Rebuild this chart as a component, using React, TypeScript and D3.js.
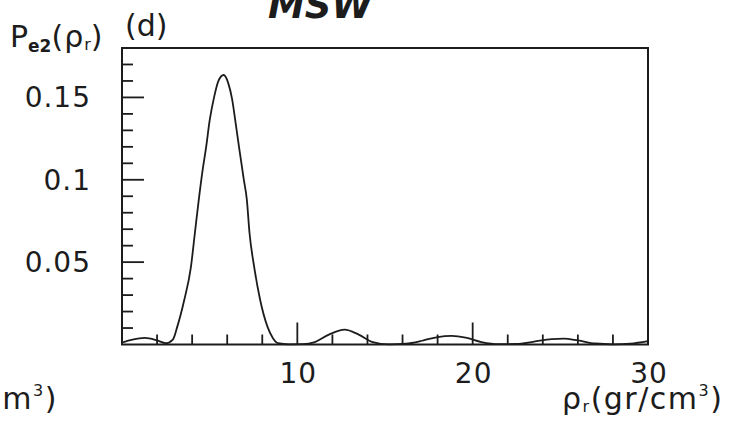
import React from "react";
import * as d3 from "d3";

const rhoValues = [0.0, 0.6, 1.3, 2.0, 2.5, 2.9, 3.15, 3.55, 3.93, 4.16, 4.38, 4.6, 4.8, 5.0, 5.25, 5.5, 5.8, 6.05, 6.28, 6.5, 6.7, 6.95, 7.12, 7.27, 7.54, 7.88, 8.3, 8.6, 8.9, 9.5, 10.3, 11.0, 11.8, 12.7, 13.5, 14.3, 15.2, 16.2, 17.2, 18.0, 18.8, 19.6, 20.5, 21.5, 22.5, 23.5, 24.5, 25.2, 26.0, 27.0, 28.0, 29.0, 30.0];
const peValues = [0.0012, 0.003, 0.004, 0.0025, 0.0008, 0.003, 0.0107, 0.027, 0.047, 0.068, 0.088, 0.106, 0.12, 0.136, 0.15, 0.16, 0.1636, 0.159, 0.149, 0.133, 0.118, 0.1, 0.088, 0.068, 0.047, 0.027, 0.0107, 0.004, 0.0008, 0.0001, 0.0002, 0.0015, 0.006, 0.009, 0.006, 0.0015, 0.0001, 0.0005, 0.0025, 0.0045, 0.0052, 0.0042, 0.0015, 0.0002, 0.0003, 0.0018, 0.0033, 0.0036, 0.0025, 0.0006, 0.0001, 0.0005, 0.002];

const xMajorTicks = [10, 20, 30];
const xMajorLabels = ["10", "20", "30"];
const xMinorTicks = [2, 4, 6, 8, 12, 14, 16, 18, 22, 24, 26, 28];
const yMajorTicks = [0.05, 0.1, 0.15];
const yMajorLabels = ["0.05", "0.1", "0.15"];
const yMinorTicks = [0.01, 0.02, 0.03, 0.04, 0.06, 0.07, 0.08, 0.09, 0.11, 0.12, 0.13, 0.14, 0.16, 0.17];

const FONT = "'DejaVu Sans', sans-serif";
const INK = "#1c1c1c";

function AxisTitle({ x, anchor }: { x: number; anchor: "start" | "end" }) {
  return (
    <text x={x} y={409} fill={INK} fontSize={30} letterSpacing={1.5} textAnchor={anchor}>
      <tspan>ρ</tspan>
      <tspan fontSize={16} dy={3}>r</tspan>
      <tspan dy={-3}>(gr/cm</tspan>
      <tspan fontSize={16} dy={-13}>3</tspan>
      <tspan dy={13}>)</tspan>
    </text>
  );
}

export default function App() {
  const x = d3.scaleLinear().domain([0, 30]).range([122, 648]);
  const y = d3.scaleLinear().domain([0, 0.18]).range([344.5, 48]);
  const pts: [number, number][] = rhoValues.map((r, i) => [r, peValues[i]]);
  const line = d3
    .line<[number, number]>()
    .x((d) => x(d[0]))
    .y((d) => y(d[1]))
    .curve(d3.curveMonotoneX);

  const x0 = x(0), x1 = x(30), yb = y(0), yt = y(0.18);

  return (
    <svg width={750} height={426} style={{ position: "absolute", left: 0, top: 0, background: "#fff" }} fontFamily={FONT}>
      <rect x={0} y={0} width={750} height={426} fill="#fff" />
      {/* title, cut off at top */}
      <text x={268} y={18} fontSize={37} fontWeight="bold" fontStyle="italic" fill={INK}>MSW</text>
      {/* panel label */}
      <text x={125} y={36} fontSize={30} fill={INK}>(d)</text>
      {/* y-axis title */}
      <text x={10} y={47} fill={INK} fontSize={30}>
        <tspan>P</tspan>
        <tspan fontSize={17} fontWeight="bold" dy={5}>e2</tspan>
        <tspan dy={-5} letterSpacing={1}>(ρ</tspan>
        <tspan fontSize={16} dy={3}>r</tspan>
        <tspan dy={-3}>)</tspan>
      </text>
      {/* x-axis title */}
      <AxisTitle x={562} anchor="start" />
      {/* neighbouring panel's axis title, cut off on left */}
      <AxisTitle x={58} anchor="end" />

      {/* frame */}
      <rect x={x0} y={yt} width={x1 - x0} height={yb - yt} fill="none" stroke={INK} strokeWidth={2} />

      {/* x ticks */}
      {xMinorTicks.map((t) => (
        <line key={"xm" + t} x1={x(t)} x2={x(t)} y1={yb} y2={yb - 10} stroke={INK} strokeWidth={1.8} />
      ))}
      {xMajorTicks.map((t, i) => (
        <g key={"xM" + t}>
          <line x1={x(t)} x2={x(t)} y1={yb} y2={yb - 22} stroke={INK} strokeWidth={1.8} />
          <text x={x(t) + 1} y={383} fontSize={28} textAnchor="middle" fill={INK} letterSpacing={1}>{xMajorLabels[i]}</text>
        </g>
      ))}
      {/* y ticks */}
      {yMinorTicks.map((t) => (
        <line key={"ym" + t} x1={x0} x2={x0 + 11} y1={y(t)} y2={y(t)} stroke={INK} strokeWidth={1.8} />
      ))}
      {yMajorTicks.map((t, i) => (
        <g key={"yM" + t}>
          <line x1={x0} x2={x0 + 22} y1={y(t)} y2={y(t)} stroke={INK} strokeWidth={1.8} />
          <text x={91} y={y(t) + 10} fontSize={28} textAnchor="end" fill={INK} letterSpacing={1}>{yMajorLabels[i]}</text>
        </g>
      ))}

      {/* curve */}
      <path d={line(pts) || ""} fill="none" stroke={INK} strokeWidth={1.8} />
    </svg>
  );
}
